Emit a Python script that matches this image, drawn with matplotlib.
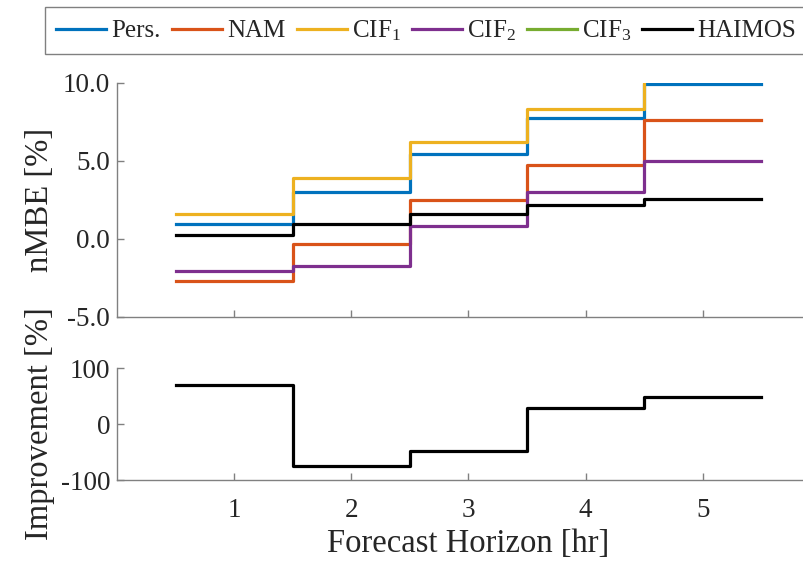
import numpy as np
import matplotlib
matplotlib.use("Agg")
import matplotlib.pyplot as plt

# ---- data ----
horizons = [1, 2, 3, 4, 5]
edges = [0.5, 1.5, 2.5, 3.5, 4.5, 5.5]
pers = [0.96, 3.03, 5.45, 7.74, 9.92]
nam = [-2.69, -0.30, 2.48, 4.74, 7.61]
cif1 = [1.58, 3.93, 6.24, 8.35, 9.92]
cif2 = [-2.07, -1.71, 0.85, 3.03, 4.98]
cif3 = [np.nan, np.nan, np.nan, np.nan, np.nan]
haimos = [0.28, 0.98, 1.60, 2.18, 2.56]
improvement = [69.0, -75.7, -47.7, 28.6, 47.5]

series_names = ["Pers.", "NAM", "CIF$_1$", "CIF$_2$", "CIF$_3$", "HAIMOS"]
series_colors = ["#0072BD", "#D95319", "#EDB120", "#7E2F8E", "#77AC30", "#000000"]
top_yticks = [-5.0, 0.0, 5.0, 10.0]
bot_yticks = [-100, 0, 100]

plt.rcParams["font.family"] = ["Liberation Serif", "DejaVu Serif"]
plt.rcParams["mathtext.fontset"] = "custom"
plt.rcParams["mathtext.rm"] = "Liberation Serif"
plt.rcParams["mathtext.it"] = "Liberation Serif:italic"
plt.rcParams["axes.unicode_minus"] = False

W, H = 804, 562
fig = plt.figure(figsize=(W / 100, H / 100), dpi=100)

def ax_rect(left, top, right, bottom):
    return [left / W, 1 - bottom / H, (right - left) / W, (bottom - top) / H]

ax1 = fig.add_axes(ax_rect(117, 83, 820, 317))
ax2 = fig.add_axes(ax_rect(117, 368, 820, 480))

spine_c = "#808080"
text_c = "#262626"
lw = 2.3

handles = []
all_series = [pers, nam, cif1, cif2, cif3, haimos]
for name, vals, col in zip(series_names, all_series, series_colors):
    vals = np.asarray(vals, dtype=float)
    if name == "CIF$_1$":
        xs, ys = edges[:-1], vals
    else:
        xs, ys = edges, np.append(vals, vals[-1])
    h, = ax1.step(xs, ys, where="post", color=col, lw=lw, label=name)
    handles.append(h)

ax2.step(edges, np.append(improvement, improvement[-1]), where="post", color="black", lw=lw)

for ax in (ax1, ax2):
    ax.set_xlim(0, 6)
    ax.set_xticks(horizons)
    for s in ("top", "right"):
        ax.spines[s].set_visible(False)
    for s in ("left", "bottom"):
        ax.spines[s].set_color(spine_c)
        ax.spines[s].set_linewidth(1.0)
    ax.tick_params(direction="in", length=5, width=1.0, color=spine_c,
                   labelsize=19.5, labelcolor=text_c)
    ax.tick_params(axis="y", pad=5)
    ax.tick_params(axis="x", pad=13)

ax1.set_ylim(-5, 10)
ax1.set_yticks(top_yticks)
ax1.set_yticklabels([f"{v:.1f}" for v in top_yticks])
ax1.set_xticklabels([])

ax2.set_ylim(-100, 100)
ax2.set_yticks(bot_yticks)
ax2.set_yticklabels([str(v) for v in bot_yticks])
ax2.set_xlabel("Forecast Horizon [hr]", fontsize=23.5, color=text_c, labelpad=4)

ax1.set_ylabel("nMBE [%]", fontsize=23.5, color=text_c, va="center")
ax1.yaxis.set_label_coords((40 - 117) / 703, 0.5)
ax2.set_ylabel("Improvement [%]", fontsize=23.5, color=text_c, va="center")
ax2.yaxis.set_label_coords((40 - 117) / 703, 0.5)

leg = fig.legend(handles=handles, labels=series_names, loc="upper left",
                 bbox_to_anchor=(45 / W, 1 - 7 / H), ncol=6, fontsize=18,
                 frameon=True, fancybox=False, edgecolor=spine_c, framealpha=1,
                 handlelength=2.0, handletextpad=0.2, columnspacing=0.45,
                 borderpad=0.45, borderaxespad=0)
leg.get_frame().set_linewidth(1.0)
for t in leg.get_texts():
    t.set_color(text_c)

fig.savefig("out.png", dpi=100)
